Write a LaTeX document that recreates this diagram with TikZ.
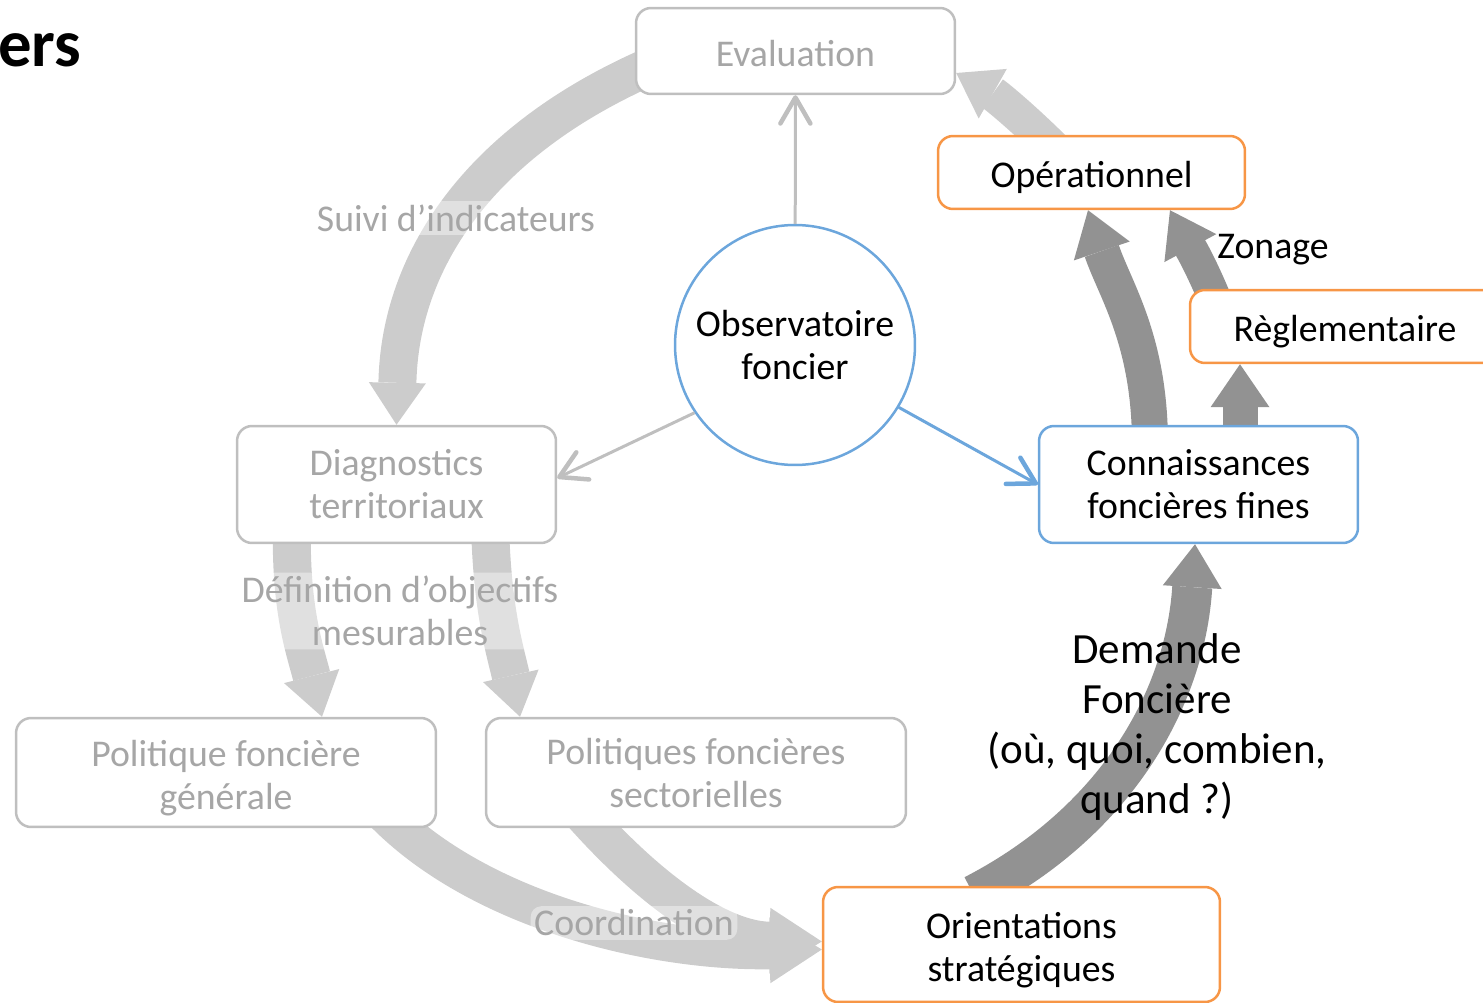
\documentclass[tikz,border=0pt]{standalone}
\usepackage{fontspec}
\setmainfont{Carlito}
\usetikzlibrary{arrows.meta,backgrounds,calc}

\definecolor{boxgrey}{HTML}{BFBFBF}
\definecolor{txtgrey}{HTML}{A6A6A6}
\definecolor{lightarrow}{HTML}{CCCCCC}
\definecolor{darkarrow}{HTML}{929292}
\definecolor{orangeline}{HTML}{F79646}
\definecolor{blueline}{HTML}{6CA6DC}

\begin{document}
\begin{tikzpicture}[x=0.02cm, y=-0.02cm,
    every node/.style={font=\fontsize{21.5}{24.5}\selectfont, align=center, inner sep=0pt},
    greybox/.style={draw=boxgrey, line width=0.05cm, rounded corners=0.3cm, fill=white, text=txtgrey},
    orangebox/.style={draw=orangeline, line width=0.05cm, rounded corners=0.3cm, fill=white},
    bluebox/.style={draw=blueline, line width=0.05cm, rounded corners=0.3cm, fill=white},
    oneline/.style={text height=0.62cm, text depth=0pt},
    glow/.style={text=txtgrey, fill=white, fill opacity=0.4, text opacity=1, inner sep=2pt, rounded corners=6pt},
    lightflow/.style={draw=lightarrow, line width=0.76cm, shorten <=-0.4cm,
        -{Triangle[width=1.14cm, length=0.84cm, line width=0pt]}},
    bighead/.style={-{Triangle[width=1.32cm, length=1.04cm, line width=0pt]}},
    darkflow/.style={draw=darkarrow, line width=0.8cm, shorten <=-0.4cm,
        -{Triangle[width=1.18cm, length=0.86cm, line width=0pt]}},
    thinarrow/.style={line width=0.06cm, -{Straight Barb[length=0.52cm, width=0.6cm, line width=0.09cm, round]}}]
    \useasboundingbox (0,0) rectangle (1483,1003);
    \node[font=\fontsize{38}{44}\selectfont\bfseries, anchor=west] (title) at (-2,50) {ers};

    % boxes round the observatory
    \node[draw=blueline, line width=0.05cm, circle, fill=white, minimum size=4.8cm] (obs) at (795,345) {Observatoire\\foncier};
    \node[greybox, oneline, minimum width=6.38cm, minimum height=1.72cm] (eval) at (795.5,51) {Evaluation};
    \node[greybox, minimum width=6.38cm, minimum height=2.34cm] (diag) at (396.5,484.5) {Diagnostics\\territoriaux};
    \node[greybox, text height=1.6cm, minimum width=8.4cm, minimum height=2.18cm] (polg) at (226,772.5) {Politique foncière\\générale};
    \node[greybox, text height=1.42cm, minimum width=8.4cm, minimum height=2.18cm] (pols) at (696,772.5) {Politiques foncières\\sectorielles};
    \node[orangebox, text height=1.6cm, minimum width=7.94cm, minimum height=2.3cm] (orient) at (1021.5,944.5) {Orientations\\stratégiques};
    \node[bluebox, minimum width=6.38cm, minimum height=2.34cm] (conn) at (1198.5,484.5) {Connaissances\\foncières fines};
    \node[orangebox, oneline, minimum width=6.14cm, minimum height=1.46cm] (ops) at (1091.5,172.5) {Opérationnel};
    \node[orangebox, oneline, minimum width=6.2cm, minimum height=1.46cm] (regl) at (1345,326.5) {Règlementaire};

    % the cycle
    \begin{scope}[on background layer]
        \draw[lightflow] ([yshift=-0.44cm]eval.west) .. controls (480,140) and (400,260) .. (diag.north);
        \draw[lightflow] ([xshift=-2.1cm]diag.south) .. controls (290,610) and (305,650) .. ([xshift=1.92cm]polg.north);
        \draw[lightflow] ([xshift=1.88cm]diag.south) .. controls (492,610) and (505,650) .. ([xshift=-3.52cm]pols.north);
        \draw[lightflow, bighead] ([xshift=3.46cm]polg.south) .. controls (480,910) and (650,952) .. ([yshift=-0.1cm]orient.west);
        \draw[lightflow, bighead] ([xshift=-2.02cm]pols.south) .. controls (650,890) and (720,940) .. ([yshift=0.06cm]orient.west);
        \draw[lightflow, line width=0.7cm] ([xshift=-1.03cm]ops.north) .. controls (1020,115) and (995,95) .. ([yshift=-0.44cm]eval.east);
        \draw[darkflow] ([xshift=-0.6cm]orient.north) .. controls (1115,822) and (1185,700) .. ([xshift=-0.07cm]conn.south);
        \draw[darkflow, line width=0.72cm] ([xshift=-0.97cm]conn.north) .. controls (1150,340) and (1115,290) .. ([xshift=-0.07cm]ops.south);
        \draw[darkflow, line width=0.66cm] ([xshift=0.44cm]regl.north west) .. controls (1200,262) and (1186,240) .. ([xshift=1.57cm]ops.south);
        \draw[darkflow, line width=0.7cm] ([xshift=0.83cm]conn.north) coordinate (up) -- (up |- regl.south);
    \end{scope}

    % labels on the flows
    \node[glow] (suivi) at (456,218) {Suivi d’indicateurs};
    \node[glow] (objectifs) at (400,611) {Définition d’objectifs\\mesurables};
    \node[glow] (coord) at (634,923) {Coordination};
    \node[font=\fontsize{24.5}{28.6}\selectfont] (demande) at (1157,727) {Demande\\Foncière\\(où, quoi, combien,\\quand ?)};
    \node (zonage) at (1273,250) {Zonage};

    % what the observatory feeds
    \draw[thinarrow, draw=boxgrey] (obs) -- (eval);
    \draw[thinarrow, draw=boxgrey] (obs.214) -- ([yshift=0.13cm]diag.east);
    \draw[thinarrow, draw=blueline] (obs.329) -- (conn.west);
\end{tikzpicture}
\end{document}
